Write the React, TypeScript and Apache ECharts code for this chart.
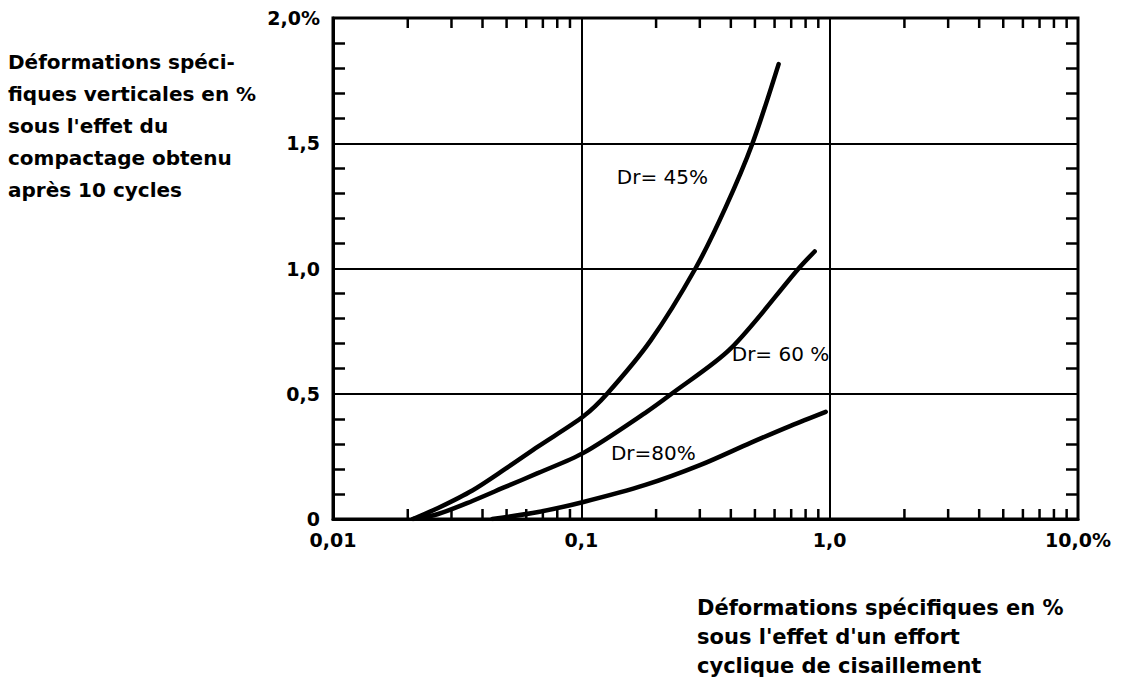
import React, { useEffect, useRef } from "react";
import * as echarts from "echarts";

// ---- data ----
const xTickValues = [0.01, 0.1, 1, 10];
const xTickLabels = ["0,01", "0,1", "1,0", "10,0%"];
const yTickValues = [0, 0.5, 1, 1.5, 2];
const yTickLabels = ["0", "0,5", "1,0", "1,5", "2,0%"];

const xMinorTicks = [
  0.02, 0.03, 0.04, 0.05, 0.06, 0.07, 0.08, 0.09,
  0.2, 0.3, 0.4, 0.5, 0.6, 0.7, 0.8, 0.9,
  2, 3, 4, 5, 6, 7, 8, 9,
];

const dr45X = [0.021, 0.0265, 0.0364, 0.0494, 0.0671, 0.102, 0.127, 0.19, 0.288, 0.381, 0.489, 0.623];
const dr45Y = [0, 0.044, 0.114, 0.2, 0.29, 0.41, 0.5, 0.712, 1.0, 1.244, 1.5, 1.816];

const dr60X = [0.021, 0.0265, 0.0364, 0.0494, 0.0671, 0.102, 0.181, 0.231, 0.399, 0.75, 0.87];
const dr60Y = [0, 0.02, 0.072, 0.128, 0.184, 0.264, 0.424, 0.5, 0.68, 1.0, 1.068];

const dr80X = [0.0438, 0.0671, 0.102, 0.181, 0.302, 0.48, 0.696, 0.964];
const dr80Y = [0, 0.028, 0.068, 0.136, 0.216, 0.304, 0.372, 0.428];

const curveLabels = ["Dr= 45%", "Dr= 60 %", "Dr=80%"];
const labelX = [0.212, 0.634, 0.195];
const labelY = [1.364, 0.66, 0.264];

const yTitle = [
  "Déformations spéci-",
  "fiques verticales en %",
  "sous l'effet du",
  "compactage obtenu",
  "après 10 cycles",
];
const xTitle = [
  "Déformations spécifiques en %",
  "sous l'effet d'un effort",
  "cyclique de cisaillement",
];

const FONT = "DejaVu Sans";

function zip(xs: number[], ys: number[]) {
  return xs.map((x, i) => [x, ys[i]]);
}

export default function App() {
  const ref = useRef<HTMLDivElement>(null);
  useEffect(() => {
    if (!ref.current) return;
    const chart = echarts.init(ref.current, undefined, { renderer: "svg" });

    const curve = (name: string, xs: number[], ys: number[], li: number) => ({
      name,
      type: "line",
      smooth: 0.3,
      showSymbol: false,
      symbol: "none",
      data: zip(xs, ys),
      lineStyle: { color: "#000", width: 4.5, cap: "round" },
      z: 5,
      markPoint: {
        symbol: "circle",
        symbolSize: 0,
        data: [
          {
            coord: [labelX[li], labelY[li]],
            label: {
              show: true,
              position: "inside",
              formatter: curveLabels[li],
              color: "#000",
              fontFamily: FONT,
              fontSize: 20,
            },
          },
        ],
      },
    });

    const yAxisBase = {
      type: "value",
      min: 0,
      max: 2,
      interval: 0.5,
      axisTick: { show: false, inside: true },
      minorTick: {
        show: true,
        splitNumber: 5,
        length: 12,
        lineStyle: { color: "#000", width: 2.5 },
      },
    };

    chart.setOption({
      animation: false,
      backgroundColor: "#fff",
      textStyle: { fontFamily: FONT },
      grid: {
        left: 333,
        right: 50,
        top: 18,
        bottom: 159,
        show: true,
        borderColor: "#000",
        borderWidth: 3,
        backgroundColor: "transparent",
      },
      xAxis: {
        type: "log",
        logBase: 10,
        min: 0.01,
        max: 10,
        axisLine: { show: true, lineStyle: { color: "#000", width: 3 } },
        axisTick: { show: false },
        splitLine: { show: true, lineStyle: { color: "#000", width: 2 } },
        axisLabel: {
          margin: 11,
          color: "#000",
          fontFamily: FONT,
          fontWeight: "bold",
          fontSize: 19,
          formatter: (v: number) => {
            const i = xTickValues.findIndex((t) => Math.abs(Math.log10(t) - Math.log10(v)) < 1e-6);
            return i >= 0 ? xTickLabels[i] : "";
          },
        },
      },
      yAxis: [
        {
          ...yAxisBase,
          position: "left",
          axisLine: { show: true, lineStyle: { color: "#000", width: 3 } },
          splitLine: { show: true, lineStyle: { color: "#000", width: 2 } },
          axisLabel: {
            margin: 13,
            color: "#000",
            fontFamily: FONT,
            fontWeight: "bold",
            fontSize: 19,
            formatter: (v: number) => {
              const i = yTickValues.findIndex((t) => Math.abs(t - v) < 1e-6);
              return i >= 0 ? yTickLabels[i] : "";
            },
          },
        },
        {
          ...yAxisBase,
          position: "right",
          axisLine: { show: false },
          splitLine: { show: false },
          axisLabel: { show: false },
        },
      ],
      series: [
        {
          type: "custom",
          data: xMinorTicks.map((v) => [v, 0]),
          clip: false,
          z: 3,
          renderItem: (params: any, api: any) => {
            const cs = params.coordSys;
            const px = api.coord([api.value(0), 0])[0];
            const top = cs.y;
            const bottom = cs.y + cs.height;
            const style = { stroke: "#000", lineWidth: 2.5 };
            return {
              type: "group",
              children: [
                { type: "line", shape: { x1: px, y1: bottom, x2: px, y2: bottom - 10 }, style },
                { type: "line", shape: { x1: px, y1: top, x2: px, y2: top + 10 }, style },
              ],
            };
          },
        },
        curve("Dr45", dr45X, dr45Y, 0),
        curve("Dr60", dr60X, dr60Y, 1),
        curve("Dr80", dr80X, dr80Y, 2),
      ],
      graphic: [
        {
          type: "text",
          left: 8,
          top: 46,
          style: {
            text: yTitle.join("\n"),
            fill: "#000",
            font: `bold 20px "${FONT}"`,
            lineHeight: 32,
          },
        },
        {
          type: "text",
          left: 697,
          top: 593,
          style: {
            text: xTitle.join("\n"),
            fill: "#000",
            font: `bold 21px "${FONT}"`,
            lineHeight: 29,
          },
        },
      ],
    });
    return () => chart.dispose();
  }, []);
  return (
    <div
      ref={ref}
      style={{ position: "fixed", left: 0, top: 0, width: 1128, height: 678, background: "#fff" }}
    />
  );
}
